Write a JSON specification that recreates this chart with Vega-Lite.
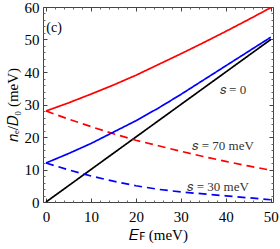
{
  "$schema": "https://vega.github.io/schema/vega-lite/v6.json",
  "width": 230,
  "height": 195,
  "autosize": {"type": "none"},
  "padding": {"left": 43, "top": 7, "right": 7, "bottom": 47},
  "background": "white",
  "config": {
    "font": "Liberation Serif",
    "view": {"stroke": "#444", "strokeWidth": 1},
    "axis": {"labelFont": "Liberation Serif", "titleFont": "Liberation Serif", "labelColor": "black", "titleColor": "black", "grid": false, "domain": false}
  },
  "datasets": {
    "curves": [
      {"E": 0, "n": 0, "series": "s0"},
      {"E": 50, "n": 50, "series": "s0"},
      {"E": 0, "n": 28, "series": "red_solid"},
      {"E": 5, "n": 30.5, "series": "red_solid"},
      {"E": 10, "n": 33.2, "series": "red_solid"},
      {"E": 15, "n": 36.0, "series": "red_solid"},
      {"E": 20, "n": 39.0, "series": "red_solid"},
      {"E": 25, "n": 42.3, "series": "red_solid"},
      {"E": 30, "n": 45.6, "series": "red_solid"},
      {"E": 35, "n": 49.0, "series": "red_solid"},
      {"E": 40, "n": 52.5, "series": "red_solid"},
      {"E": 45, "n": 56.1, "series": "red_solid"},
      {"E": 50, "n": 59.8, "series": "red_solid"},
      {"E": 0, "n": 28, "series": "red_dashed"},
      {"E": 5, "n": 25.5, "series": "red_dashed"},
      {"E": 10, "n": 23.2, "series": "red_dashed"},
      {"E": 15, "n": 21.0, "series": "red_dashed"},
      {"E": 20, "n": 19.0, "series": "red_dashed"},
      {"E": 25, "n": 17.3, "series": "red_dashed"},
      {"E": 30, "n": 15.6, "series": "red_dashed"},
      {"E": 35, "n": 14.0, "series": "red_dashed"},
      {"E": 40, "n": 12.5, "series": "red_dashed"},
      {"E": 45, "n": 11.1, "series": "red_dashed"},
      {"E": 50, "n": 9.8, "series": "red_dashed"},
      {"E": 0, "n": 12, "series": "blue_solid"},
      {"E": 5, "n": 14.9, "series": "blue_solid"},
      {"E": 10, "n": 18.0, "series": "blue_solid"},
      {"E": 15, "n": 21.5, "series": "blue_solid"},
      {"E": 20, "n": 25.0, "series": "blue_solid"},
      {"E": 25, "n": 28.9, "series": "blue_solid"},
      {"E": 30, "n": 33.1, "series": "blue_solid"},
      {"E": 35, "n": 37.5, "series": "blue_solid"},
      {"E": 40, "n": 41.9, "series": "blue_solid"},
      {"E": 45, "n": 46.3, "series": "blue_solid"},
      {"E": 50, "n": 50.7, "series": "blue_solid"},
      {"E": 0, "n": 12, "series": "blue_dashed"},
      {"E": 5, "n": 9.9, "series": "blue_dashed"},
      {"E": 10, "n": 8.0, "series": "blue_dashed"},
      {"E": 15, "n": 6.4, "series": "blue_dashed"},
      {"E": 20, "n": 5.0, "series": "blue_dashed"},
      {"E": 25, "n": 3.9, "series": "blue_dashed"},
      {"E": 30, "n": 3.1, "series": "blue_dashed"},
      {"E": 35, "n": 2.5, "series": "blue_dashed"},
      {"E": 40, "n": 1.9, "series": "blue_dashed"},
      {"E": 45, "n": 1.3, "series": "blue_dashed"},
      {"E": 50, "n": 0.7, "series": "blue_dashed"}
    ],
    "labels": [
      {"E": 41.6, "n": 34.4, "text": "𝑠 = 0"},
      {"E": 39.4, "n": 17.3, "text": "𝑠 = 70 meV"},
      {"E": 38.3, "n": 4.7, "text": "𝑠 = 30 meV"}
    ]
  },
  "resolve": {"axis": {"x": "independent", "y": "independent"}},
  "layer": [
    {
      "data": {"name": "curves"},
      "mark": {"type": "line", "strokeWidth": 1.7, "clip": true},
      "encoding": {
        "x": {"field": "E", "type": "quantitative", "scale": {"domain": [-0.67, 50.5], "nice": false, "zero": false},
          "axis": {"orient": "bottom", "values": [0, 10, 20, 30, 40, 50], "ticks": false, "labelFont": "Liberation Serif", "labelFontSize": 15, "labelPadding": 7, "title": "𝐸ꜰ (meV)", "titleFont": "Liberation Serif", "titleFontSize": 15, "titleFontWeight": "normal", "titlePadding": 3}},
        "y": {"field": "n", "type": "quantitative", "scale": {"domain": [0, 60], "nice": false},
          "axis": {"orient": "left", "values": [0, 10, 20, 30, 40, 50, 60], "ticks": false, "labelFont": "Liberation Serif", "labelFontSize": 15, "labelPadding": 4, "title": "𝑛ₑ/𝐷₀ (meV)", "titleFont": "Liberation Serif", "titleFontSize": 15, "titleFontWeight": "normal", "titlePadding": 4}},
        "detail": {"field": "series"},
        "color": {"field": "series", "type": "nominal", "legend": null,
          "scale": {"domain": ["s0", "red_solid", "red_dashed", "blue_solid", "blue_dashed"], "range": ["#000000", "#FF0000", "#FF0000", "#0000FF", "#0000FF"]}},
        "strokeDash": {"field": "series", "type": "nominal", "legend": null,
          "scale": {"domain": ["s0", "red_solid", "red_dashed", "blue_solid", "blue_dashed"], "range": [[1, 0], [1, 0], [8, 5], [1, 0], [8, 5]]}}
      }
    },
    {
      "data": {"name": "curves"},
      "mark": {"type": "line", "opacity": 0},
      "encoding": {
        "x": {"field": "E", "type": "quantitative", "axis": {"orient": "top", "values": [0, 10, 20, 30, 40, 50], "labels": false, "title": null, "tickSize": -4, "tickColor": "#444"}},
        "y": {"field": "n", "type": "quantitative", "axis": {"orient": "right", "values": [0, 10, 20, 30, 40, 50, 60], "labels": false, "title": null, "tickSize": -4, "tickColor": "#444"}}
      }
    },
    {
      "data": {"name": "curves"},
      "mark": {"type": "line", "opacity": 0},
      "encoding": {
        "x": {"field": "E", "type": "quantitative", "axis": {"orient": "bottom", "values": [0, 10, 20, 30, 40, 50], "labels": false, "title": null, "tickSize": -4, "tickColor": "#444"}},
        "y": {"field": "n", "type": "quantitative", "axis": {"orient": "left", "values": [0, 10, 20, 30, 40, 50, 60], "labels": false, "title": null, "tickSize": -4, "tickColor": "#444"}}
      }
    },
    {
      "data": {"name": "curves"},
      "mark": {"type": "line", "opacity": 0},
      "encoding": {
        "x": {"field": "E", "type": "quantitative", "axis": {"orient": "bottom", "values": [2, 4, 6, 8, 12, 14, 16, 18, 22, 24, 26, 28, 32, 34, 36, 38, 42, 44, 46, 48], "labels": false, "title": null, "tickSize": -2, "tickColor": "#666"}},
        "y": {"field": "n", "type": "quantitative", "axis": {"orient": "left", "values": [2, 4, 6, 8, 12, 14, 16, 18, 22, 24, 26, 28, 32, 34, 36, 38, 42, 44, 46, 48, 52, 54, 56, 58], "labels": false, "title": null, "tickSize": -2, "tickColor": "#666"}}
      }
    },
    {
      "data": {"name": "curves"},
      "mark": {"type": "line", "opacity": 0},
      "encoding": {
        "x": {"field": "E", "type": "quantitative", "axis": {"orient": "top", "values": [2, 4, 6, 8, 12, 14, 16, 18, 22, 24, 26, 28, 32, 34, 36, 38, 42, 44, 46, 48], "labels": false, "title": null, "tickSize": -2, "tickColor": "#666"}},
        "y": {"field": "n", "type": "quantitative", "axis": {"orient": "right", "values": [2, 4, 6, 8, 12, 14, 16, 18, 22, 24, 26, 28, 32, 34, 36, 38, 42, 44, 46, 48, 52, 54, 56, 58], "labels": false, "title": null, "tickSize": -2, "tickColor": "#666"}}
      }
    },
    {
      "data": {"name": "labels"},
      "mark": {"type": "text", "font": "Liberation Serif", "fontSize": 13, "color": "#333", "align": "center", "baseline": "middle"},
      "encoding": {
        "x": {"field": "E", "type": "quantitative", "axis": null},
        "y": {"field": "n", "type": "quantitative", "axis": null},
        "text": {"field": "text"}
      }
    },
    {
      "data": {"values": [{"E": 1.8, "n": 53.4, "text": "(c)"}]},
      "mark": {"type": "text", "font": "Liberation Serif", "fontSize": 14, "fontWeight": "normal", "color": "black", "align": "center", "baseline": "middle"},
      "encoding": {
        "x": {"field": "E", "type": "quantitative", "axis": null},
        "y": {"field": "n", "type": "quantitative", "axis": null},
        "text": {"field": "text"}
      }
    }
  ]
}
